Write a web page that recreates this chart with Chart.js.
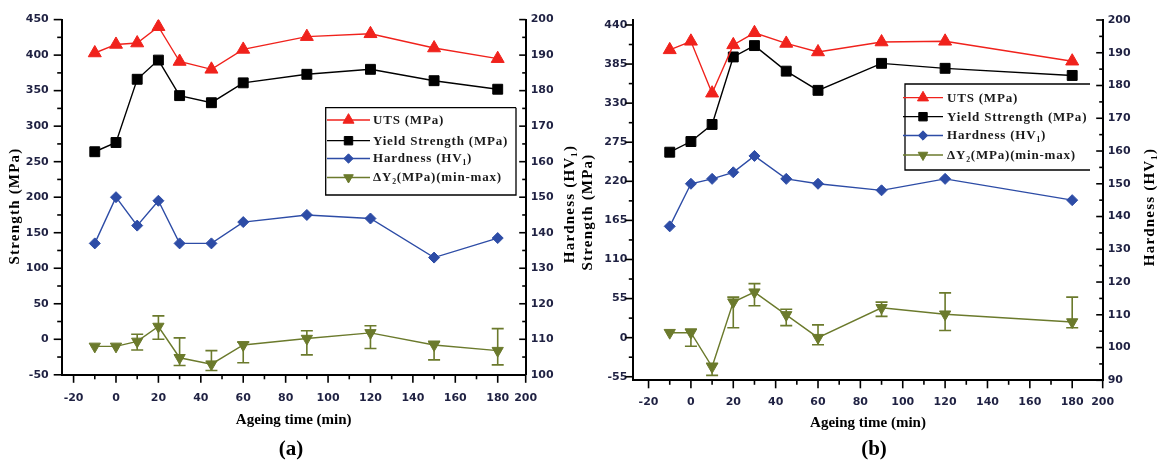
<!DOCTYPE html>
<html><head><meta charset="utf-8">
<script src="https://cdn.jsdelivr.net/npm/chart.js@4.4.1/dist/chart.umd.min.js"></script>
<style>
html,body{margin:0;padding:0;background:#fff;}
body{width:1172px;height:467px;position:relative;overflow:hidden;}
.panel{position:absolute;top:0;height:467px;}
#pa{left:0;width:582px;}
#pb{left:576px;width:596px;}
</style></head><body>
<div class="panel" id="pa"><canvas id="ca"></canvas></div>
<div class="panel" id="pb"><canvas id="cb"></canvas></div>
<script>
// ---------- data ----------
const seriesLabelsA = ['UTS (MPa)', 'Yield Strength (MPa)', 'Hardness (HV\u2081)', '\u0394Y\u2082(MPa)(min-max)'];
const seriesLabelsB = ['UTS (MPa)', 'Yield Sttrength (MPa)', 'Hardness (HV\u2081)', '\u0394Y\u2082(MPa)(min-max)'];

const timeA   = [-10, 0, 10, 20, 30, 45, 60, 90, 120, 150, 180];
const utsA    = [403, 415, 417, 440, 391, 380, 408, 426, 430, 410, 395];
const yieldA  = [264, 277, 366, 393, 343, 333, 361, 373, 380, 364, 352];
const hardA   = [137, 150, 142, 149, 137, 137, 143, 145, 144, 133, 138.5];
const dyA     = [-10, -10, -3, 18, -26, -35, -8, 1, 9, -8, -16];
const dyUpA   = [0, 0, 10, 15, 28, 19, 4, 11, 10, 5, 31];
const dyDownA = [0, 0, 12, 18, 11, 9, 25, 23, 22, 21, 20];

const timeB   = [-10, 0, 10, 20, 30, 45, 60, 90, 120, 180];
const utsB    = [405, 417, 344, 412, 429, 414, 402, 416, 417, 389];
const yieldB  = [261, 276, 300, 395, 411, 375, 348, 386, 379, 369];
const hardB   = [137, 150, 151.5, 153.5, 158.5, 151.5, 150, 148, 151.5, 145];
const dyB     = [7, 7, -41, 50, 64, 32, 0, 42, 33, 22];
const dyUpB   = [0, 5, 5, 7, 12, 8, 18, 8, 30, 35];
const dyDownB = [0, 19, 12, 36, 19, 15, 10, 12, 23, 8];

const xTickVals   = [-20, 0, 20, 40, 60, 80, 100, 120, 140, 160, 180];
const xEndLabel   = '200';
const yLTicksA    = [-50, 0, 50, 100, 150, 200, 250, 300, 350, 400, 450];
const yRTicksA    = [100, 110, 120, 130, 140, 150, 160, 170, 180, 190, 200];
const yLTicksB    = [-55, 0, 55, 110, 165, 220, 275, 330, 385, 440];
const yRTicksB    = [90, 100, 110, 120, 130, 140, 150, 160, 170, 180, 190, 200];

// ---------- styling ----------
const RED = '#f0221c', BLACK = '#000000', BLUE = '#2d4ca6', OLIVE = '#6b7a2c';
const TICK_FONT = {family: 'DejaVu Sans', size: 11, weight: 'bold'};
const TICK_COLOR = '#1f2142';
const SERIF = 'Liberation Serif';

const mids = v => v.slice(0, -1).map((a, i) => (a + v[i + 1]) / 2);
const pts = (xs, ys) => xs.map((x, i) => ({x: x, y: ys[i]}));

const decoPlugin = {
  id: 'deco',
  beforeDatasetsDraw(chart, args, o) {
    const ctx = chart.ctx;
    chart.data.datasets.forEach((ds, di) => {
      if (!ds.errUp) return;
      const ys = chart.scales[ds.yAxisID], xs = chart.scales.x;
      ctx.save();
      ctx.strokeStyle = ds.borderColor; ctx.lineWidth = 1.6;
      ds.data.forEach((p, i) => {
        const up = ds.errUp[i], dn = ds.errDown[i];
        if (!up && !dn) return;
        const px = xs.getPixelForValue(p.x);
        const yt = ys.getPixelForValue(p.y + up), yb = ys.getPixelForValue(p.y - dn);
        ctx.beginPath();
        ctx.moveTo(px, yt); ctx.lineTo(px, yb);
        ctx.moveTo(px - 6, yt); ctx.lineTo(px + 6, yt);
        ctx.moveTo(px - 6, yb); ctx.lineTo(px + 6, yb);
        ctx.stroke();
      });
      ctx.restore();
    });
  },
  afterDraw(chart, args, o) {
    const ctx = chart.ctx, ca = chart.chartArea;
    ctx.save();
    ctx.strokeStyle = '#000'; ctx.lineWidth = 1.6;
    const sx = chart.scales.x, sl = chart.scales.yL, sr = chart.scales.yR;
    const seg = (x1, y1, x2, y2) => { ctx.beginPath(); ctx.moveTo(x1, y1); ctx.lineTo(x2, y2); ctx.stroke(); };
    o.xMajor.forEach(v => { const p = sx.getPixelForValue(v); seg(p, ca.bottom, p, ca.bottom + 8); });
    o.xMinor.forEach(v => { const p = sx.getPixelForValue(v); seg(p, ca.bottom, p, ca.bottom + 4.5); });
    o.yLMajor.forEach(v => { const p = sl.getPixelForValue(v); seg(ca.left, p, ca.left - 8, p); });
    o.yLMinor.forEach(v => { const p = sl.getPixelForValue(v); seg(ca.left, p, ca.left - 4.5, p); });
    o.yRMajor.forEach(v => { const p = sr.getPixelForValue(v); seg(ca.right, p, ca.right - 6.5, p); });
    o.yRMinor.forEach(v => { const p = sr.getPixelForValue(v); seg(ca.right, p, ca.right - 3.5, p); });

    // rotated axis titles (both read bottom-to-top)
    ctx.fillStyle = '#000';
    ctx.font = 'bold 15px "' + SERIF + '"';
    if ('letterSpacing' in ctx) ctx.letterSpacing = '1.2px';
    ctx.textAlign = 'center'; ctx.textBaseline = 'middle';
    [o.leftTitle, o.rightTitle].forEach(t => {
      ctx.save(); ctx.translate(t.x, t.y); ctx.rotate(-Math.PI / 2);
      ctx.fillText(t.text, 0, 0); ctx.restore();
    });

    // legend box
    const lg = o.legend;
    ctx.lineWidth = 1.3; ctx.strokeStyle = '#000';
    ctx.beginPath();
    ctx.moveTo(lg.x1, lg.y0); ctx.lineTo(lg.x0, lg.y0); ctx.lineTo(lg.x0, lg.y1); ctx.lineTo(lg.x1, lg.y1);
    if (!lg.openRight) ctx.lineTo(lg.x1, lg.y0);
    ctx.stroke();
    ctx.font = 'bold 13px "' + SERIF + '"';
    if ('letterSpacing' in ctx) ctx.letterSpacing = '0.8px';
    ctx.textAlign = 'left'; ctx.textBaseline = 'middle';
    lg.order.forEach((di, k) => {
      const ds = chart.data.datasets[di], y = lg.rows[k];
      ctx.strokeStyle = ds.borderColor; ctx.fillStyle = ds.backgroundColor; ctx.lineWidth = 1.3;
      seg(lg.lx0, y, lg.lx1, y);
      ctx.lineWidth = 1;
      if (Chart.helpers && Chart.helpers.drawPoint) {
        Chart.helpers.drawPoint(ctx, {pointStyle: ds.pointStyle, radius: ds.pointRadius * 0.85,
          rotation: ds.pointRotation || 0, borderWidth: 1}, (lg.lx0 + lg.lx1) / 2, y);
      }
      ctx.fillStyle = '#1a1a1a';
      ctx.fillText(ds.label, lg.tx, y + 0.5);
    });
    ctx.restore();
  }
};

function makeDatasets(labels, t, uts, ys, hv, dy, up, dn) {
  const common = {showLine: true, tension: 0, borderWidth: 1.4, pointBorderWidth: 1};
  return [
    Object.assign({label: labels[3], data: pts(t, dy), yAxisID: 'yL', borderColor: OLIVE, backgroundColor: OLIVE,
      pointStyle: 'triangle', pointRotation: 180, pointRadius: 6.5, errUp: up, errDown: dn, order: 4}, common),
    Object.assign({label: labels[2], data: pts(t, hv), yAxisID: 'yR', borderColor: BLUE, backgroundColor: BLUE,
      pointStyle: 'rectRot', pointRadius: 5.5, order: 3}, common),
    Object.assign({label: labels[1], data: pts(t, ys), yAxisID: 'yL', borderColor: BLACK, backgroundColor: BLACK,
      pointStyle: 'rect', pointRadius: 7, order: 2}, common),
    Object.assign({label: labels[0], data: pts(t, uts), yAxisID: 'yL', borderColor: RED, backgroundColor: RED,
      pointStyle: 'triangle', pointRadius: 7.5, order: 1}, common)
  ];
}

function makeChart(canvasId, p) {
  const setTicks = vals => s => { s.ticks = vals.map(v => ({value: v})); };
  const noGrid = {display: false, drawTicks: false, tickLength: 0};
  return new Chart(document.getElementById(canvasId), {
    type: 'scatter',
    data: {datasets: p.datasets},
    options: {
      responsive: true, maintainAspectRatio: false, animation: false,
      layout: {padding: {left: 0, right: 0, top: p.top, bottom: 0}},
      plugins: {
        legend: {display: false}, tooltip: {enabled: false},
        title: {display: true, position: 'bottom', text: p.tag, color: '#000',
          font: {family: SERIF, size: 21, weight: 'bold'}, padding: {top: 0, bottom: 5}},
        deco: {
          xMajor: xTickVals.concat([p.xMax]), xMinor: mids(xTickVals),
          yLMajor: p.yLTicks, yLMinor: mids(p.yLTicks),
          yRMajor: p.yRTicks, yRMinor: mids(p.yRTicks),
          leftTitle: {text: 'Strength (MPa)', x: p.ltx, y: p.lty},
          rightTitle: {text: 'Hardness (HV\u2081)', x: p.rtx, y: p.rty},
          legend: p.legend
        }
      },
      scales: {
        x: {type: 'linear', position: 'bottom', min: p.xMin, max: p.xMax,
          afterBuildTicks: setTicks(xTickVals.concat([p.xMax])),
          afterFit: s => { s.height = p.xH; },
          grid: noGrid, border: {display: true, color: '#000', width: 2},
          ticks: {autoSkip: false, maxRotation: 0, padding: p.xPad, color: TICK_COLOR, font: TICK_FONT,
            callback: v => (v === p.xMax ? xEndLabel : String(v))},
          title: {display: true, text: 'Ageing time (min)', color: '#000',
            font: {family: SERIF, size: 15, weight: 'bold'}, padding: {top: 0, bottom: p.xTitlePad}}},
        yL: {type: 'linear', position: 'left', min: p.yLMin, max: p.yLMax,
          afterBuildTicks: setTicks(p.yLTicks),
          afterFit: s => { s.width = p.lW; },
          grid: noGrid, border: {display: true, color: '#000', width: 2},
          ticks: {autoSkip: false, padding: p.lPad, color: TICK_COLOR, font: TICK_FONT}},
        yR: {type: 'linear', position: 'right', min: p.yRMin, max: p.yRMax,
          afterBuildTicks: setTicks(p.yRTicks),
          afterFit: s => { s.width = p.rW; },
          grid: noGrid, border: {display: true, color: '#000', width: 2},
          ticks: {autoSkip: false, padding: 5, color: TICK_COLOR, font: TICK_FONT}}
      }
    },
    plugins: [decoPlugin]
  });
}

makeChart('ca', {
  datasets: makeDatasets(seriesLabelsA, timeA, utsA, yieldA, hardA, dyA, dyUpA, dyDownA),
  tag: '(a)', top: 15, xH: 62, xTitlePad: 8, xPad: 17,
  xMin: -25.6, xMax: 193.2, yLMin: -50, yLMax: 450, yRMin: 100, yRMax: 200,
  yLTicks: yLTicksA, yRTicks: yRTicksA, lW: 61.7, rW: 56.3, lPad: 13,
  ltx: 15, lty: 206, rtx: 570, rty: 204,
  legend: {x0: 325.7, x1: 516, y0: 107.7, y1: 195, rows: [120, 140.7, 158.5, 177.5],
    lx0: 327, lx1: 370, tx: 373, order: [3, 2, 1, 0], openRight: false}
});

makeChart('cb', {
  datasets: makeDatasets(seriesLabelsB, timeB, utsB, yieldB, hardB, dyB, dyUpB, dyDownB),
  tag: '(b)', top: 20, xH: 56.5, xTitlePad: 5, xPad: 15,
  xMin: -27.2, xMax: 194.4, yLMin: -60, yLMax: 447, yRMin: 90, yRMax: 200,
  yLTicks: yLTicksB, yRTicks: yRTicksB, lW: 57.3, rW: 69.3, lPad: 6,
  ltx: 12, lty: 212, rtx: 574, rty: 207,
  legend: {x0: 329, x1: 514, y0: 84, y1: 170, rows: [97.7, 116.7, 135.5, 155],
    lx0: 327, lx1: 367, tx: 371, order: [3, 2, 1, 0], openRight: true}
});
</script>
</body></html>
